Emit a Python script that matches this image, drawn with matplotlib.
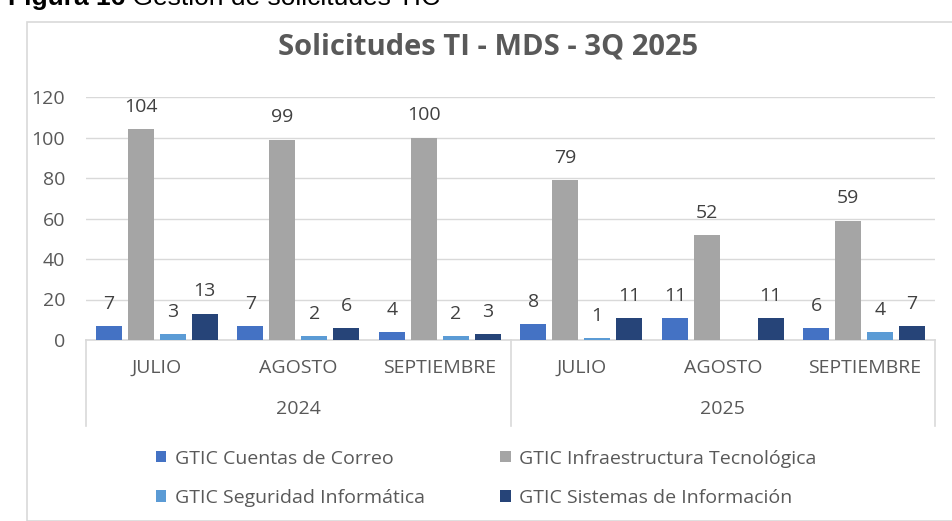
import matplotlib
matplotlib.use("Agg")
import matplotlib.pyplot as plt
import matplotlib.transforms as mtransforms
from matplotlib.patches import Rectangle, Patch
from matplotlib.text import Annotation
import numpy as np

plt.rcParams['font.family'] = ['Open Sans', 'DejaVu Sans']

years = ["2024", "2025"]
months = ["JULIO", "AGOSTO", "SEPTIEMBRE"]
series_names = ["GTIC Cuentas de Correo", "GTIC Infraestructura Tecnológica",
                "GTIC Seguridad Informática", "GTIC Sistemas de Información"]
cuentas = [7, 7, 4, 8, 11, 6]
infra = [104, 99, 100, 79, 52, 59]
seguridad = [3, 2, 2, 1, np.nan, 4]
sistemas = [13, 6, 3, 11, 11, 7]
colors = ["#4472C4", "#A5A5A5", "#5B9BD5", "#264478"]

W, H = 952, 521
fig = plt.figure(figsize=(W/100, H/100), dpi=100)

# chart area border
fig.patches.append(Rectangle((27/W, 0), 1, 1 - 22/H, transform=fig.transFigure,
                             fill=False, edgecolor="#D9D9D9", linewidth=1.2))
# cropped caption at top
cap1 = fig.text(8/W, 1 + 2/H, "Figura 16", fontsize=19, fontweight='bold', ha='left',
                va='center', color='black', family=['Liberation Sans'])
fig.add_artist(Annotation(" Gestión de solicitudes TIC", xy=(1, 0.5),
               xycoords=cap1, ha='left', va='center', fontsize=19, color='black',
               family=['Liberation Sans']))

ax = fig.add_axes([86/W, 1 - 340/H, (935 - 86)/W, (340 - 97)/H])
series = [cuentas, infra, seguridad, sistemas]
n = len(cuentas)
x = np.arange(n)
step = 0.2255
bw = 0.185
for i, (vals, c) in enumerate(zip(series, colors)):
    xs = x + (i - 1.5) * step
    ax.bar(xs, vals, width=bw, color=c, zorder=3)
    for xi, v in zip(xs, vals):
        if not np.isnan(v):
            ax.annotate(f"{int(v)}", (xi, v), xytext=(0, 9.5), textcoords='offset points',
                        ha='center', va='bottom', fontsize=14, color='#404040')

ax.set_xlim(-0.5, n - 0.5)
ax.set_ylim(0, 120)
ax.set_yticks(range(0, 121, 20))
ax.tick_params(axis='y', length=0, labelsize=14, labelcolor='#595959', pad=15)
ax.set_xticks([])
ax.grid(axis='y', color='#D9D9D9', linewidth=1, zorder=0)
for s in ['top', 'right', 'left']:
    ax.spines[s].set_visible(False)
ax.spines['bottom'].set_color('#D9D9D9')
ax.spines['bottom'].set_linewidth(1.2)

trans = mtransforms.blended_transform_factory(ax.transData, ax.transAxes)
axh = (340 - 97)
def yax(px_below):
    return -px_below / axh

for i in range(n):
    ax.text(x[i], yax(28), months[i % 3], transform=trans, ha='center', va='center',
            fontsize=14, color='#595959')
for j, yr in enumerate(years):
    ax.text(j * 3 + 1, yax(69), yr, transform=trans, ha='center', va='center',
            fontsize=14, color='#595959')
for xb in [-0.5, 2.5, 5.5]:
    ax.plot([xb, xb], [0, yax(86)], transform=trans, color='#D9D9D9', linewidth=1.2,
            clip_on=False)

fig.text(488/W, 1 - 47/H, "Solicitudes TI - MDS - 3Q 2025", fontsize=21, fontweight='bold',
         color='#595959', ha='center', va='center')

order = [0, 2, 1, 3]
handles = [Patch(facecolor=colors[k]) for k in order]
labels = [series_names[k] for k in order]
fig.legend(handles, labels, ncol=2, loc='upper left', bbox_to_anchor=(138/W, 1 - 432/H),
           frameon=False, fontsize=14, labelcolor='#595959', handlelength=0.55,
           handleheight=0.55, handletextpad=0.45, columnspacing=3.85, labelspacing=1.1)

fig.savefig("out.png", dpi=100)
